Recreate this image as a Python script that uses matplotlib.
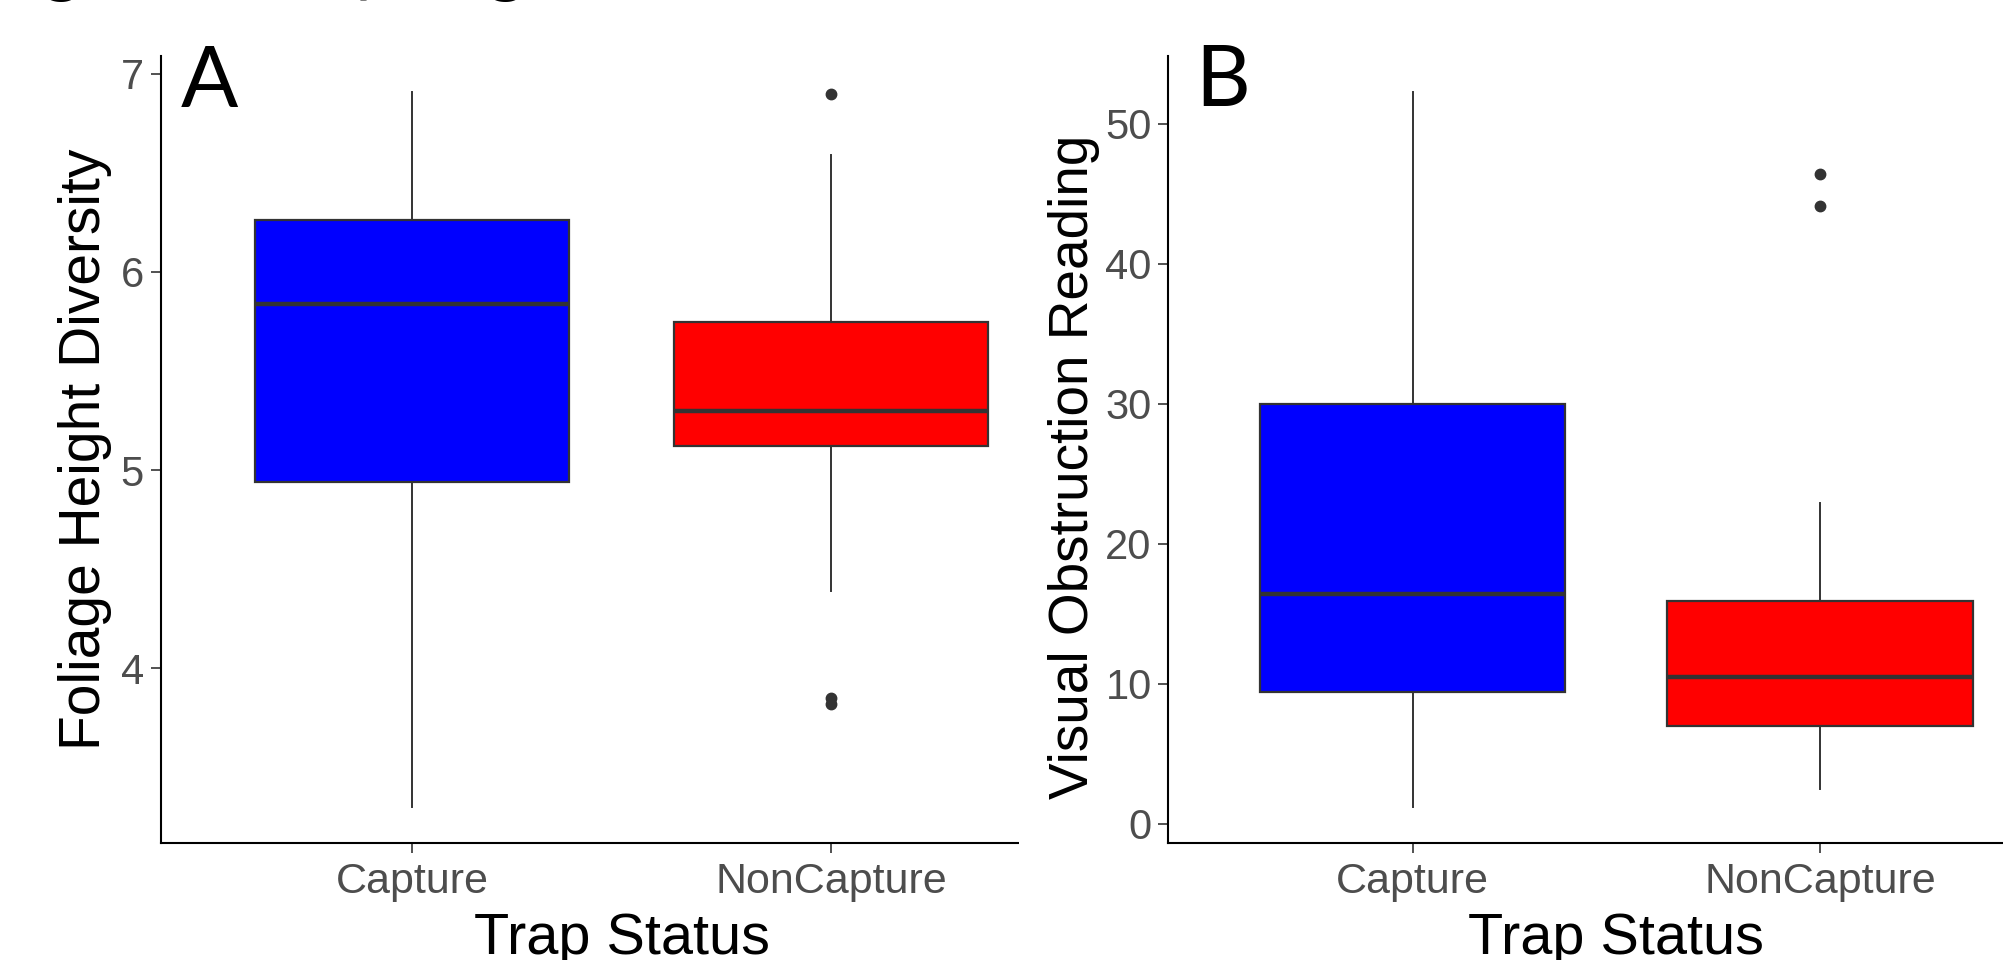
import matplotlib
matplotlib.use("Agg")
import matplotlib.pyplot as plt
from matplotlib.patches import Rectangle

# ---------------- data ----------------
categories = ["Capture", "NonCapture"]

# Panel A: Foliage Height Diversity
fhd_q1 = [4.94, 5.12]
fhd_med = [5.84, 5.30]
fhd_q3 = [6.26, 5.75]
fhd_whislo = [3.30, 4.39]
fhd_whishi = [6.91, 6.59]
fhd_fliers = [[], [6.90, 3.82, 3.85]]
fhd_ticks = [4, 5, 6, 7]

# Panel B: Visual Obstruction Reading
vor_q1 = [9.4, 7.0]
vor_med = [16.4, 10.5]
vor_q3 = [30.0, 15.9]
vor_whislo = [1.2, 2.5]
vor_whishi = [52.3, 22.9]
vor_fliers = [[], [46.4, 44.1]]
vor_ticks = [0, 10, 20, 30, 40, 50]

fill_colors = ["#0000FF", "#FF0000"]
title_text = "Significantly Higher at Capture Sites (p < 0.001)"

W, H = 2003, 960
fig = plt.figure(figsize=(W / 100, H / 100), dpi=100)
fig.patch.set_facecolor("white")

EDGE = "#333333"
TICKLAB = "#4D4D4D"


def make_stats(q1, med, q3, lo, hi, fl):
    return [dict(q1=a, med=b, q3=c, whislo=d, whishi=e, fliers=f)
            for a, b, c, d, e, f in zip(q1, med, q3, lo, hi, fl)]


def draw_panel(ax, stats, ticks, ylabel, ylabel_size, ylabelpad, ylabel_y):
    bp = ax.bxp(stats, positions=[1, 2], widths=0.75, patch_artist=True,
                showcaps=False,
                boxprops=dict(edgecolor=EDGE, linewidth=1.6),
                medianprops=dict(color=EDGE, linewidth=3.2),
                whiskerprops=dict(color=EDGE, linewidth=1.4),
                flierprops=dict(marker="o", markersize=7.5,
                                markerfacecolor=EDGE, markeredgecolor=EDGE))
    for patch, col in zip(bp["boxes"], fill_colors):
        patch.set_facecolor(col)
    vals = []
    for s in stats:
        vals += [s["whislo"], s["whishi"]] + list(s["fliers"])
    lo, hi = min(vals), max(vals)
    pad = 0.05 * (hi - lo)
    ax.set_ylim(lo - pad, hi + pad)
    ax.set_xlim(0.4, 2.6)
    ax.set_xticks([1, 2])
    ax.set_xticklabels(categories)
    ax.set_yticks(ticks)
    for sp in ["top", "right"]:
        ax.spines[sp].set_visible(False)
    for sp in ["left", "bottom"]:
        ax.spines[sp].set_color("black")
        ax.spines[sp].set_linewidth(1.5)
    ax.tick_params(axis="both", direction="out", length=7, width=1.2,
                   color=EDGE, labelcolor=TICKLAB,
                   labelfontfamily="Liberation Sans")
    ax.tick_params(axis="y", pad=5, labelsize=30)
    ax.tick_params(axis="x", pad=7, labelsize=31)
    ax.set_ylabel(ylabel, fontsize=ylabel_size, family="Liberation Sans",
                  color="black", labelpad=ylabelpad)
    ax.yaxis.label.set_y(ylabel_y)
    ax.set_xlabel("Trap Status", fontsize=41.5, family="Liberation Sans",
                  color="black", labelpad=7)
    ax.set_facecolor("white")


axA = fig.add_axes([160.6 / W, (H - 842.5) / H, 921.8 / W, (842.5 - 56) / H])
axB = fig.add_axes([1168.3 / W, (H - 842.5) / H, 896.0 / W, (842.5 - 56) / H])

draw_panel(axA, make_stats(fhd_q1, fhd_med, fhd_q3, fhd_whislo, fhd_whishi, fhd_fliers),
           fhd_ticks, "Foliage Height Diversity", 41, 6, 0.5)
draw_panel(axB, make_stats(vor_q1, vor_med, vor_q3, vor_whislo, vor_whishi, vor_fliers),
           vor_ticks, "Visual Obstruction Reading", 39.5, 4, 0.478)

axA.set_zorder(0)
axB.set_zorder(2)

# white background of panel B image overlapping panel A
cover = Rectangle((1019 / W, 0), 1 - 1019 / W, (H - 30) / H,
                  transform=fig.transFigure, facecolor="white",
                  edgecolor="none", zorder=1)
fig.add_artist(cover)

# panel letters
fig.text(181 / W, 1 - 107 / H, "A", fontsize=61, family="Lato",
         ha="left", va="baseline", zorder=3)
fig.text(1195 / W, 1 - 106 / H, "B", fontsize=61, family="Lato",
         ha="left", va="baseline", zorder=3)

# cropped title (only descenders visible)
fig.text(-18 / W, 1 + 13 / H, title_text, fontsize=55, family="Lato",
         ha="left", va="baseline", zorder=3)

fig.savefig("out.png", dpi=100, facecolor="white")
